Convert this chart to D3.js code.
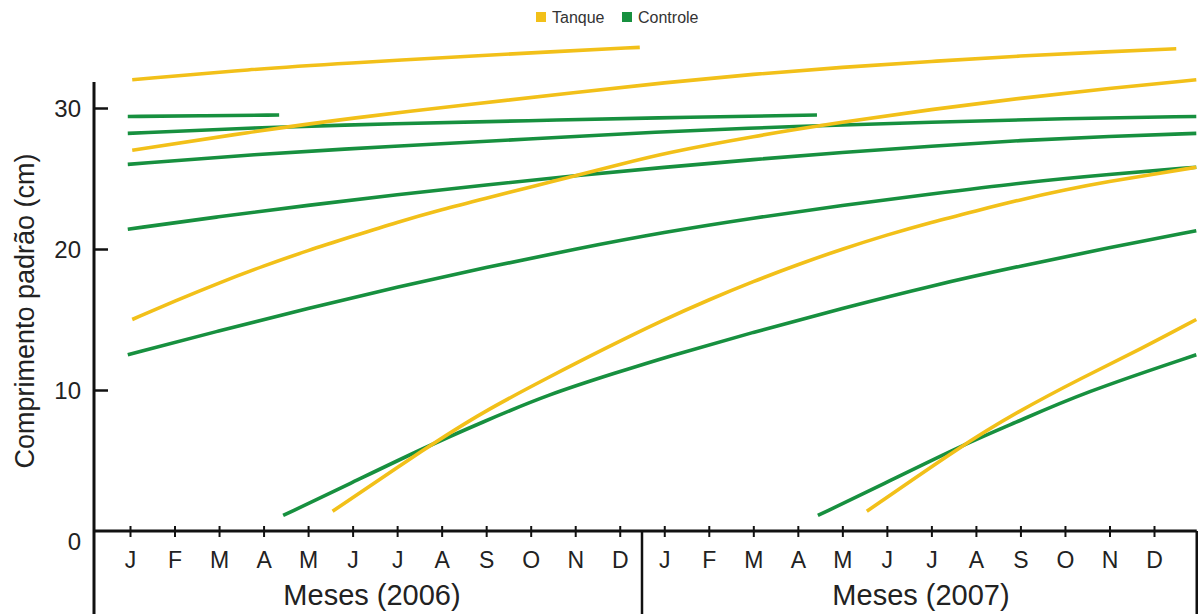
<!DOCTYPE html>
<html>
<head>
<meta charset="utf-8">
<script src="https://cdn.jsdelivr.net/npm/d3@7"></script>
<style>
  body { margin: 0; background: #fff; }
  text { font-family: "Liberation Sans", Arial, sans-serif; }
</style>
</head>
<body>
<div id="chart"></div>
<script>
// month labels (Jan 2006 = index 0 ... Dec 2007 = index 23)
var monthLabels = ["J","F","M","A","M","J","J","A","S","O","N","D",
                   "J","F","M","A","M","J","J","A","S","O","N","D"];
var yearLabels = ["Meses (2006)", "Meses (2007)"];
var yTicks = [0, 10, 20, 30];

// Tanque curves: [month index, length cm]
var tanqueA = [[0.05,32.0],[2.7,32.75],[5,33.2],[7.2,33.6],[9.5,34.0],[11.45,34.3]];
var tanqueB = [[0.05,27.0],[2.7,28.3],[5,29.3],[7.75,30.3],[10,31.1],[12,31.8],[14,32.4],
               [16,32.9],[18,33.3],[20,33.7],[22,34.0],[23.5,34.2]];
var tanqueC = [[0.05,15.0],[1,16.3],[2,17.6],[3,18.8],[4,19.9],[5,20.9],[6,21.9],[7,22.8],
               [8,23.6],[9,24.4],[10,25.2],[11,26.0],[12,26.8],[14,28.0],[16,29.0],
               [18,29.9],[20,30.7],[22,31.4],[23.95,32.0]];
var tanqueD = [[4.55,1.4],[6.7,6.0],[7.9,8.4],[9.4,10.9],[10.7,13.0],[12,15.0],[13,16.4],
               [14,17.7],[15,18.9],[16,20.0],[17,21.0],[18,21.9],[19,22.7],[20,23.5],
               [21,24.2],[22,24.8],[23,25.3],[23.95,25.8]];
var tanqueE = [[16.55,1.4],[18.7,6.1],[19.9,8.4],[21.4,10.9],[22.7,12.9],[23.95,15.0]];

// Controle curves
var controleA = [[-0.05,29.4],[1.7,29.45],[3.35,29.5]];
var controleB = [[-0.05,28.2],[2.7,28.6],[6,28.9],[9,29.1],[11.7,29.3],[15.43,29.5]];
var controleC = [[-0.05,26.0],[2.7,26.7],[6,27.3],[9,27.8],[11.7,28.3],[15,28.7],
                 [18,29.0],[21,29.25],[23.95,29.4]];
var controleD = [[-0.05,21.4],[2,22.3],[4,23.1],[6,23.85],[8,24.55],[10,25.2],[12,25.8],
                 [14,26.35],[16,26.85],[18,27.3],[20,27.7],[22,28.0],[23.95,28.2]];
var controleE = [[-0.05,12.5],[2,14.2],[4,15.8],[6,17.3],[8,18.7],[10,20.0],[12,21.2],
                 [14,22.2],[16,23.1],[18,23.9],[20,24.7],[22,25.3],[23.95,25.8]];
var controleF = [[3.44,1.1],[4.9,3.3],[6.67,6.0],[7.9,7.7],[9.4,9.7],[11,11.3],[12,12.3],
                 [14,14.1],[16,15.8],[18,17.4],[20,18.8],[22,20.1],[23.95,21.3]];
var controleG = [[15.45,1.1],[16.9,3.3],[18.7,6.1],[19.9,7.7],[21.4,9.8],[23.95,12.5]];

var tanqueCurves = [tanqueA, tanqueB, tanqueC, tanqueD, tanqueE];
var controleCurves = [controleA, controleB, controleC, controleD, controleE, controleF, controleG];

var yellow = "#f2c019", green = "#17903f";

var svg = d3.select("#chart")
  .append("svg")
    .attr("width", 1200)
    .attr("height", 614);

var x = d3.scaleLinear().domain([0, 23]).range([130, 1154]);
var y = d3.scaleLinear().domain([0, 30]).range([531, 108]);

var line = d3.line()
  .x(function(d) { return x(d[0]); })
  .y(function(d) { return y(d[1]); })
  .curve(d3.curveBasis);

// curves (green first, yellow over)
svg.append("g")
  .selectAll("path")
  .data(controleCurves)
  .enter()
  .append("path")
    .attr("d", line)
    .attr("fill", "none")
    .attr("stroke", green)
    .attr("stroke-width", 3.6);

svg.append("g")
  .selectAll("path")
  .data(tanqueCurves)
  .enter()
  .append("path")
    .attr("d", line)
    .attr("fill", "none")
    .attr("stroke", yellow)
    .attr("stroke-width", 3.6);

// Y axis
var yAxis = svg.append("g")
  .attr("transform", "translate(94,0)")
  .call(d3.axisLeft(y).tickValues(yTicks).tickSize(-14).tickPadding(13));
yAxis.select(".domain").remove();
yAxis.selectAll(".tick line").attr("stroke", "#111").attr("stroke-width", 2.5)
  .filter(function(d) { return d === 0; }).remove();
yAxis.selectAll(".tick text")
  .attr("font-size", 24)
  .attr("fill", "#222")
  .attr("font-family", "Liberation Sans, Arial, sans-serif")
  .attr("dy", function(d) { return d === 0 ? "0.75em" : "0.35em"; });

svg.append("line")
  .attr("x1", 94).attr("x2", 94)
  .attr("y1", y(31.85)).attr("y2", 614)
  .attr("stroke", "#111").attr("stroke-width", 3);

// X axis
var xAxis = svg.append("g")
  .attr("transform", "translate(0,531)")
  .call(d3.axisBottom(x).tickValues(d3.range(24)).tickSize(6).tickPadding(15)
    .tickFormat(function(d) { return monthLabels[d]; }));
xAxis.select(".domain").remove();
xAxis.selectAll(".tick line").attr("y1", -5).attr("stroke", "#111").attr("stroke-width", 2);
xAxis.selectAll(".tick text")
  .attr("font-size", 23)
  .attr("fill", "#222")
  .attr("font-family", "Liberation Sans, Arial, sans-serif");

svg.append("line")
  .attr("x1", 94).attr("x2", x(23.96))
  .attr("y1", 531).attr("y2", 531)
  .attr("stroke", "#111").attr("stroke-width", 3);

// year separators
[11.5, 23.96].forEach(function(m) {
  svg.append("line")
    .attr("x1", x(m)).attr("x2", x(m))
    .attr("y1", 531).attr("y2", 614)
    .attr("stroke", "#111").attr("stroke-width", 2.5);
});

svg.selectAll(".yearLabel")
  .data(yearLabels)
  .enter()
  .append("text")
    .attr("x", function(d, i) { return i ? 921 : 372; })
    .attr("y", 605)
    .attr("text-anchor", "middle")
    .attr("font-size", 29)
    .attr("fill", "#222")
    .text(function(d) { return d; });

// Y title
svg.append("text")
  .attr("transform", "translate(34,311) rotate(-90)")
  .attr("text-anchor", "middle")
  .attr("font-size", 27)
  .attr("fill", "#222")
  .text("Comprimento padrão (cm)");

// legend
var legend = [["Tanque", yellow, 536], ["Controle", green, 622]];
legend.forEach(function(l) {
  svg.append("rect")
    .attr("x", l[2]).attr("y", 12)
    .attr("width", 10).attr("height", 10)
    .attr("fill", l[1]);
  svg.append("text")
    .attr("x", l[2] + 16).attr("y", 23)
    .attr("font-size", 16)
    .attr("fill", "#333")
    .text(l[0]);
});
</script>
</body>
</html>
